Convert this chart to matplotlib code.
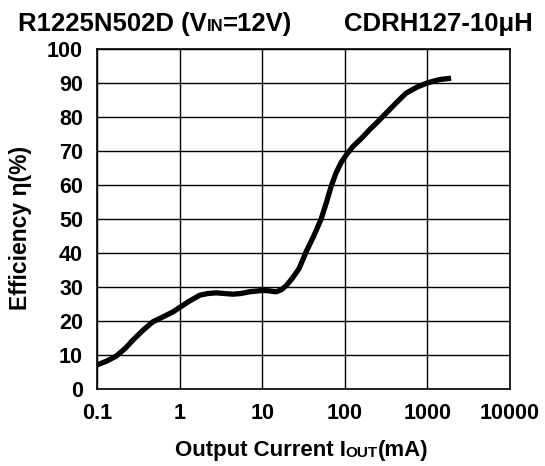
import matplotlib.pyplot as plt

plt.rcParams['font.family'] = ['Liberation Sans', 'DejaVu Sans']

# efficiency curve
current_ma = [0.1, 0.13, 0.171, 0.22, 0.272, 0.36, 0.475, 0.65, 0.83, 1.0, 1.3, 1.75,
              2.2, 2.78, 3.5, 4.4, 5.5, 7.0, 10, 12, 14.7, 17, 19.5, 23, 28,
              34, 42, 51.6, 60, 68, 78, 90, 105, 125, 160, 198, 250, 315,
              420, 550, 750, 990, 1400, 1930]
efficiency = [7.1, 8.2, 9.7, 12.0, 14.4, 17.3, 19.8, 21.4, 22.7, 24.0, 25.8, 27.6,
              28.1, 28.3, 28.1, 27.9, 28.1, 28.6, 29.0, 28.9, 28.6, 29.2, 30.4, 32.5, 35.5,
              40.4, 45.0, 50.0, 55.0, 59.5, 63.5, 66.6, 69.0, 71.3, 73.8, 76.2, 78.6, 81.1,
              84.2, 87.0, 88.8, 90.0, 91.0, 91.4]

x_ticks = [0.1, 1, 10, 100, 1000, 10000]
x_labels = ['0.1', '1', '10', '100', '1000', '10000']
y_ticks = list(range(0, 101, 10))

fig = plt.figure(figsize=(5.45, 4.66), dpi=100)
ax = fig.add_axes([0.178, 0.165, 0.758, 0.730])

ax.plot(current_ma, efficiency, color='black', lw=3.8,
        solid_joinstyle='round', solid_capstyle='butt')

ax.set_xscale('log')
ax.set_xlim(0.1, 10000)
ax.set_ylim(0, 100)
ax.set_xticks(x_ticks)
ax.set_xticklabels(x_labels)
ax.set_yticks(y_ticks)
ax.minorticks_off()
ax.grid(True, color='black', lw=1.0)
for s in ax.spines.values():
    s.set_linewidth(1.2)
ax.tick_params(length=0, labelsize=15.5, pad=10)
for lab in ax.get_xticklabels() + ax.get_yticklabels():
    lab.set_fontweight('bold')

# y label
fig.text(0.038, 0.511, 'Efficiency η(%)', rotation=90, ha='center', va='center',
         fontsize=16.5, fontweight='bold')


def small_caps_label(x, y, before, small, after, big, little, ha_right=False):
    # big text, smaller caps on the same baseline, big text again
    lift = 0.21 * (big - little)
    a = fig.text(x, y, before, fontsize=big, fontweight='bold', va='baseline')
    b = ax.annotate(small, xy=(1, 0), xycoords=a, xytext=(0, lift),
                    textcoords='offset points', va='bottom', ha='left',
                    fontsize=little, fontweight='bold')
    ax.annotate(after, xy=(1, 0), xycoords=b, xytext=(0, -lift),
                textcoords='offset points', va='bottom', ha='left',
                fontsize=big, fontweight='bold')


# x label with small-cap "OUT"
small_caps_label(0.321, 0.021, 'Output Current I', 'OUT', '(mA)', 16, 11)

# title pieces
small_caps_label(0.033, 0.933, 'R1225N502D (V', 'IN', '=12V)', 18.5, 12)
fig.text(0.978, 0.933, 'CDRH127-10μH', fontsize=18.5, fontweight='bold',
         ha='right', va='baseline')

fig.savefig('out.png', dpi=100)
